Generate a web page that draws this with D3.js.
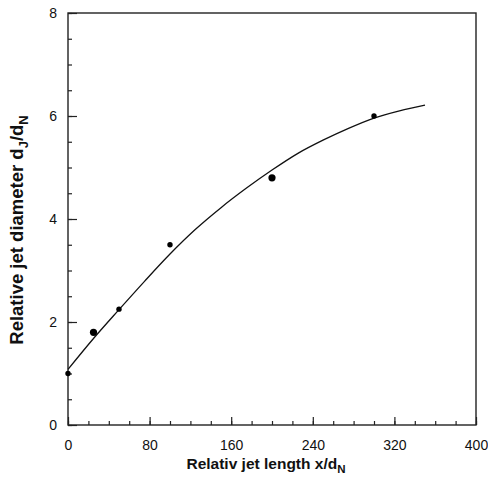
<!DOCTYPE html>
<html lang="en">
<head>
<meta charset="utf-8">
<title>Relative jet diameter vs jet length</title>
<script src="https://d3js.org/d3.v7.min.js"></script>
<style>
  body { margin: 0; background: #fff; }
  svg text { font-family: "Liberation Sans", Arial, sans-serif; fill: #111; }
  .tick text { font-size: 14px; }
  .title { font-weight: bold; }
</style>
</head>
<body>
<svg id="chart" width="488" height="491"></svg>
<script>
// measured points (x/dN, dJ/dN)
var pointX = [0, 25, 50, 100, 200, 300];
var pointY = [1.0, 1.8, 2.25, 3.5, 4.8, 6.0];

// fitted curve
var curveX = [0, 25, 50, 75, 100, 125, 150, 175, 200, 225, 250, 275, 300, 325, 350];
var curveY = [1.08, 1.68, 2.24, 2.79, 3.32, 3.80, 4.22, 4.60, 4.95, 5.27, 5.53, 5.76, 5.96, 6.10, 6.21];

var xMajor = [0, 80, 160, 240, 320, 400];
var yMajor = [0, 2, 4, 6, 8];

var svg = d3.select('#chart');

var x = d3.scaleLinear().domain([0, 400]).range([68, 476]);
var y = d3.scaleLinear().domain([0, 8]).range([425, 13]);

// minor ticks first, no labels
svg.append('g')
    .attr('transform', 'translate(0,425)')
    .call(d3.axisBottom(x).tickValues(d3.range(0, 401, 20)).tickSize(-4).tickFormat(''))
    .call(function(g) { g.select('.domain').remove(); });
svg.append('g')
    .attr('transform', 'translate(68,0)')
    .call(d3.axisLeft(y).tickValues(d3.range(0, 8.01, 0.5)).tickSize(-4).tickFormat(''))
    .call(function(g) { g.select('.domain').remove(); });

// major ticks with labels
svg.append('g')
    .attr('transform', 'translate(0,425)')
    .call(d3.axisBottom(x).tickValues(xMajor).tickSize(-8).tickSizeOuter(0).tickPadding(15).tickFormat(d3.format('d')))
    .call(function(g) { g.select('.domain').remove(); });
svg.append('g')
    .attr('transform', 'translate(68,0)')
    .call(d3.axisLeft(y).tickValues(yMajor).tickSize(-9).tickSizeOuter(0).tickPadding(11).tickFormat(d3.format('d')))
    .call(function(g) { g.select('.domain').remove(); });

svg.selectAll('.tick line').attr('stroke', '#222').attr('stroke-width', 1.2);
svg.selectAll('.tick text').attr('fill', '#111');

// frame
svg.append('rect')
    .attr('x', x(0)).attr('y', y(8))
    .attr('width', x(400) - x(0)).attr('height', y(0) - y(8))
    .attr('fill', 'none').attr('stroke', '#222').attr('stroke-width', 1.4);

// curve
var line = d3.line()
    .x(function(d) { return x(d[0]); })
    .y(function(d) { return y(d[1]); })
    .curve(d3.curveMonotoneX);
svg.append('path')
    .datum(d3.zip(curveX, curveY))
    .attr('d', line)
    .attr('fill', 'none')
    .attr('stroke', '#111')
    .attr('stroke-width', 1.3);

// points (two of them were printed a bit bigger)
var bigDots = [25, 200];
svg.selectAll('circle.pt')
    .data(d3.zip(pointX, pointY))
    .enter().append('circle')
    .attr('class', 'pt')
    .attr('cx', function(d) { return x(d[0]); })
    .attr('cy', function(d) { return y(d[1]); })
    .attr('r', function(d) { return bigDots.indexOf(d[0]) >= 0 ? 3.6 : 2.7; })
    .attr('fill', '#000');

// axis titles
var xt = svg.append('text')
    .attr('class', 'title')
    .style('font-size', '15.5px')
    .attr('x', 266).attr('y', 469)
    .attr('text-anchor', 'middle')
    .text('Relativ jet length x/d');
xt.append('tspan').attr('dy', 4).style('font-size', '11.5px').text('N');

var yt = svg.append('text')
    .attr('class', 'title')
    .style('font-size', '18.5px')
    .attr('transform', 'translate(23,230) rotate(-90)')
    .attr('text-anchor', 'middle')
    .text('Relative jet diameter d');
yt.append('tspan').attr('dy', 5).style('font-size', '13px').text('J');
yt.append('tspan').attr('dy', -5).text('/d');
yt.append('tspan').attr('dy', 5).style('font-size', '13px').text('N');
</script>
</body>
</html>
